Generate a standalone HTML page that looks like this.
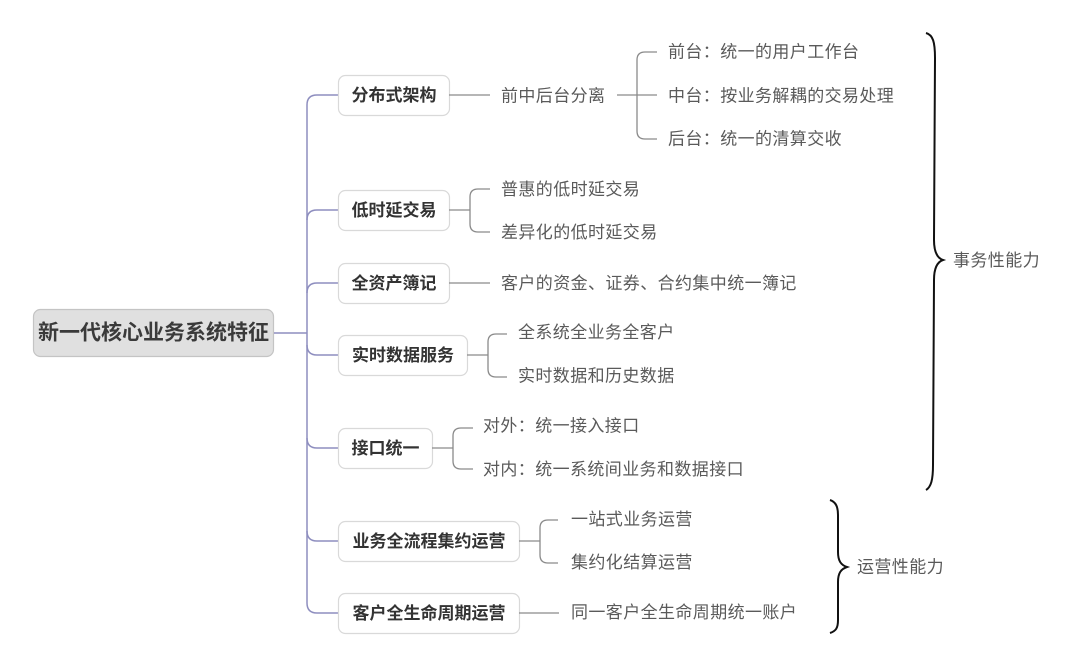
<!DOCTYPE html>
<html><head><meta charset="utf-8"><style>
html,body{margin:0;padding:0;background:#fff;}
svg{display:block;}
text{font-family:"Liberation Sans","Noto Sans CJK SC",sans-serif;dominant-baseline:central;}
.l2{font-size:17px;fill:#5a5a5a;letter-spacing:0.4px;}
.l1{font-size:17px;font-weight:bold;fill:#333;}
.box{fill:#fff;stroke:#d9d9d9;stroke-width:1.2;}
.g{fill:none;stroke:#8a8a8a;stroke-width:1.3;}
.p{fill:none;stroke:#8e8ebf;stroke-width:1.5;}
.br{fill:none;stroke:#111;stroke-width:2;}
</style></head><body>
<svg width="1080" height="666" viewBox="0 0 1080 666" xmlns="http://www.w3.org/2000/svg">
<!-- root -->
<rect x="33.5" y="309.5" width="240" height="47" rx="7" fill="#e0e0e0" stroke="#c4c4c4" stroke-width="1.2"/>
<text x="153.5" y="333" text-anchor="middle" style="font-size:21px;font-weight:bold;fill:#3a3a3a">新一代核心业务系统特征</text>

<!-- trunk -->
<path class="p" d="M274,333 L307,333"/>
<path class="p" d="M338,95 L317,95 Q307,95 307,105 L307,603 Q307,613 317,613 L338,613"/>
<path class="p" d="M307,220 Q307,210 317,210 L338,210"/>
<path class="p" d="M307,293 Q307,283 317,283 L338,283"/>
<path class="p" d="M307,345 Q307,355 317,355 L338,355"/>
<path class="p" d="M307,438 Q307,448 317,448 L338,448"/>
<path class="p" d="M307,531 Q307,541 317,541 L338,541"/>

<!-- level1 boxes -->
<rect class="box" x="338.5" y="75.5" width="111" height="40" rx="7"/>
<text class="l1" x="394" y="95.5" text-anchor="middle">分布式架构</text>
<rect class="box" x="338.5" y="190.5" width="111" height="40" rx="7"/>
<text class="l1" x="394" y="210.5" text-anchor="middle">低时延交易</text>
<rect class="box" x="338.5" y="263.5" width="111" height="40" rx="7"/>
<text class="l1" x="394" y="283.5" text-anchor="middle">全资产簿记</text>
<rect class="box" x="338.5" y="335.5" width="129" height="40" rx="7"/>
<text class="l1" x="403" y="355.5" text-anchor="middle">实时数据服务</text>
<rect class="box" x="338.5" y="428.5" width="94" height="40" rx="7"/>
<text class="l1" x="385.5" y="448.5" text-anchor="middle">接口统一</text>
<rect class="box" x="338.5" y="521.5" width="181" height="40" rx="7"/>
<text class="l1" x="429" y="541.5" text-anchor="middle">业务全流程集约运营</text>
<rect class="box" x="338.5" y="593.5" width="181" height="40" rx="7"/>
<text class="l1" x="429" y="613.5" text-anchor="middle">客户全生命周期运营</text>

<!-- 分布式架构 -->
<path class="g" d="M449,95 L490,95"/>
<text class="l2" x="501" y="96">前中后台分离</text>
<path class="g" d="M617,95 L657,95 M657,52 L645,52 Q637,52 637,60 L637,131 Q637,139 645,139 L657,139"/>
<text class="l2" x="668" y="52">前台：统一的用户工作台</text>
<text class="l2" x="668" y="96">中台：按业务解耦的交易处理</text>
<text class="l2" x="668" y="139">后台：统一的清算交收</text>

<!-- 低时延交易 -->
<path class="g" d="M449,210 L470,210 M490,189 L478,189 Q470,189 470,197 L470,224 Q470,232 478,232 L490,232"/>
<text class="l2" x="501" y="189.5">普惠的低时延交易</text>
<text class="l2" x="501" y="232.5">差异化的低时延交易</text>

<!-- 全资产簿记 -->
<path class="g" d="M449,283 L490,283"/>
<text class="l2" x="501" y="283.5">客户的资金、证券、合约集中统一簿记</text>

<!-- 实时数据服务 -->
<path class="g" d="M467,355 L488,355 M507,334 L496,334 Q488,334 488,342 L488,369 Q488,377 496,377 L507,377"/>
<text class="l2" x="518" y="332.5">全系统全业务全客户</text>
<text class="l2" x="518" y="376">实时数据和历史数据</text>

<!-- 接口统一 -->
<path class="g" d="M432,448 L453,448 M473,428 L461,428 Q453,428 453,436 L453,461 Q453,469 461,469 L473,469"/>
<text class="l2" x="483" y="426">对外：统一接入接口</text>
<text class="l2" x="483" y="469.5">对内：统一系统间业务和数据接口</text>

<!-- 业务全流程集约运营 -->
<path class="g" d="M519,541 L540,541 M558,520 L548,520 Q540,520 540,528 L540,555 Q540,563 548,563 L558,563"/>
<text class="l2" x="571" y="519.5">一站式业务运营</text>
<text class="l2" x="571" y="562.5">集约化结算运营</text>

<!-- 客户全生命周期运营 -->
<path class="g" d="M519,613 L559,613"/>
<text class="l2" x="571" y="612.5">同一客户全生命周期统一账户</text>

<!-- braces -->
<path class="br" d="M926,33 C933,35 935,42 935,58 L934,240 C934,252 937,258 943,260 C937,262 934,268 934,280 L933,465 C933,480 931,487 926,490"/>
<text class="l2" x="953" y="260.5">事务性能力</text>
<path class="br" d="M830,500 C836,502 838,507 838,515 L838,552 C838,561 841,565 847,567 C841,569 838,573 838,582 L838,620 C838,628 836,631 830,633"/>
<text class="l2" x="857" y="567">运营性能力</text>
</svg>
</body></html>
